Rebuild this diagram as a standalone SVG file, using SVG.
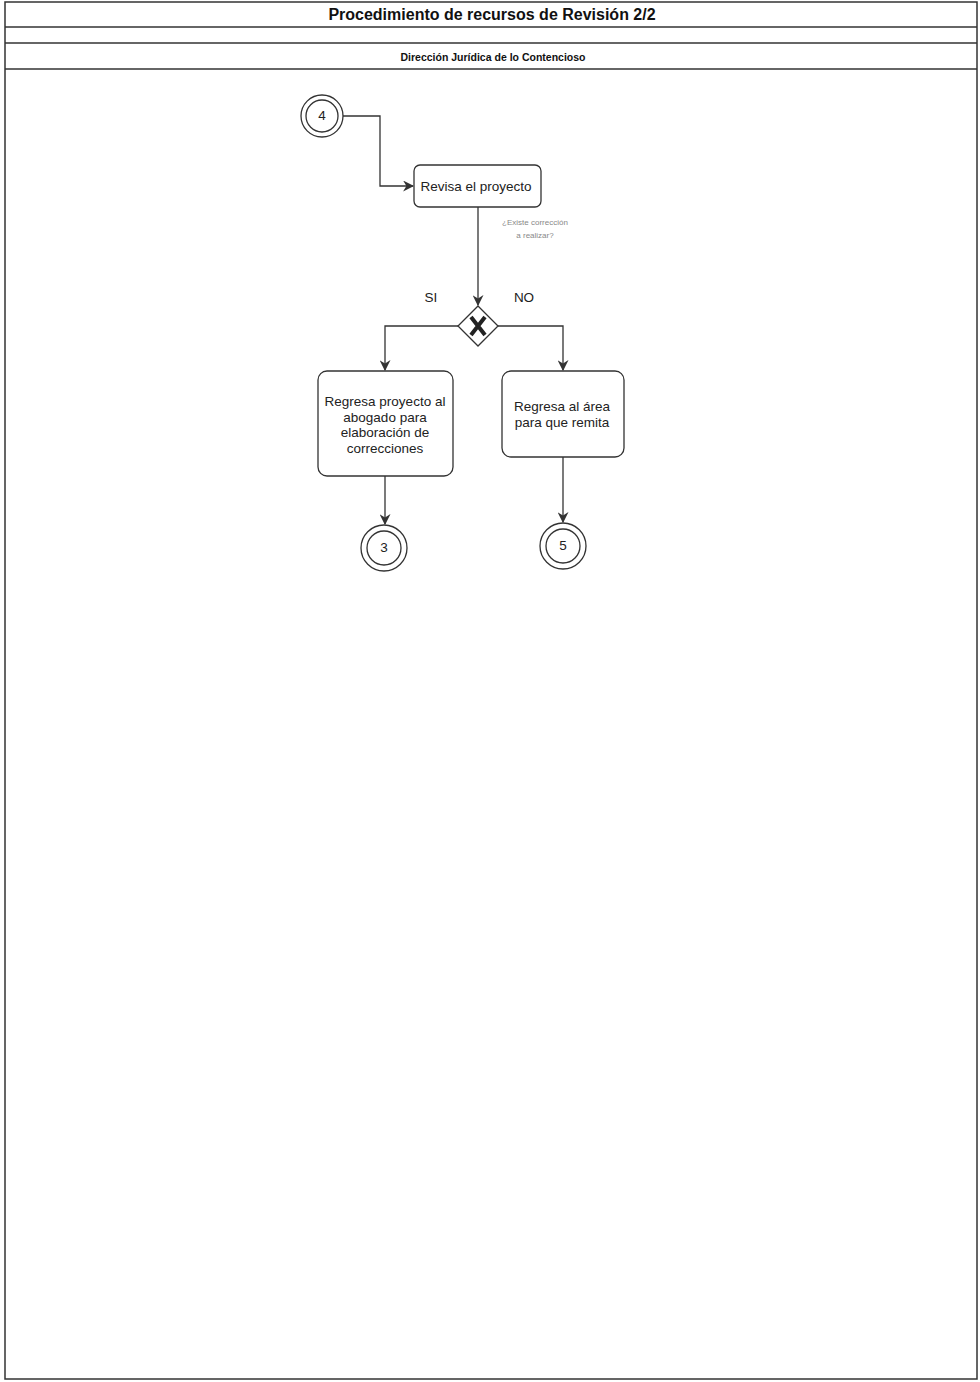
<svg xmlns="http://www.w3.org/2000/svg" width="980" height="1382" viewBox="0 0 980 1382">
<defs>
<style>
.frame{fill:#fff;stroke:#333;stroke-width:1.5}
.ln{stroke:#333;stroke-width:1.5;fill:none}
.task{fill:#fff;stroke:#333;stroke-width:1.3}
.ev{fill:#fff;stroke:#333;stroke-width:1.3}
.t{font-family:"Liberation Sans",Arial,sans-serif;font-size:13.5px;fill:#222;text-anchor:middle}
.edge{stroke:#333;stroke-width:1.3;fill:none;marker-end:url(#arr)}
</style>
<marker id="arr" viewBox="0 0 10 10" refX="9" refY="5" markerWidth="11" markerHeight="11" markerUnits="userSpaceOnUse" orient="auto">
<path d="M0,0 L10,5 L0,10 L3,5 Z" fill="#333"/>
</marker>
</defs>
<rect width="980" height="1382" fill="#fff"/>
<g id="frame">
<rect class="frame" x="5" y="2" width="972" height="1377"/>
<line class="ln" x1="5" y1="27" x2="977" y2="27"/>
<line class="ln" x1="5" y1="43" x2="977" y2="43"/>
<line class="ln" x1="5" y1="69" x2="977" y2="69"/>
<text x="492" y="20" font-family="Liberation Sans,Arial,sans-serif" font-size="16" font-weight="bold" text-anchor="middle" fill="#111">Procedimiento de recursos de Revisión 2/2</text>
<text x="493" y="61" font-family="Liberation Sans,Arial,sans-serif" font-size="10.5" font-weight="bold" text-anchor="middle" fill="#111">Dirección Jurídica de lo Contencioso</text>
</g>
<g id="connectors">
<path class="edge" d="M343,116 H380 V186 H413"/>
<path class="edge" d="M478,207 V305"/>
<path class="edge" d="M458,326 H385 V370"/>
<path class="edge" d="M498,326 H563 V370"/>
<path class="edge" d="M385,476 V524"/>
<path class="edge" d="M563,457 V522"/>
<text x="535" y="225" font-family="Liberation Sans,Arial,sans-serif" font-size="8" fill="#888" text-anchor="middle">¿Existe corrección</text>
<text x="535" y="238" font-family="Liberation Sans,Arial,sans-serif" font-size="8" fill="#888" text-anchor="middle">a realizar?</text>
<text class="t" x="431" y="302">SI</text>
<text class="t" x="524" y="302">NO</text>
</g>
<g id="event4">
<circle class="ev" cx="322" cy="116" r="21"/>
<circle class="ev" cx="322" cy="116" r="16"/>
<text class="t" x="322" y="120" font-size="12">4</text>
</g>
<g id="task-revisa">
<rect class="task" x="414" y="165" width="127" height="42" rx="6"/>
<text class="t" x="476" y="191">Revisa el proyecto</text>
</g>
<g id="gateway">
<path d="M478,306 L498,326 L478,346 L458,326 Z" fill="#fff" stroke="#333" stroke-width="1.3"/>
<path d="M471,317 L485,335 M485,317 L471,335" stroke="#222" stroke-width="4" fill="none"/>
</g>
<g id="task-regresa-abogado">
<rect class="task" x="318" y="371" width="135" height="105" rx="9"/>
<text class="t" x="385" y="406">Regresa proyecto al</text>
<text class="t" x="385" y="422">abogado para</text>
<text class="t" x="385" y="437">elaboración de</text>
<text class="t" x="385" y="453">correcciones</text>
</g>
<g id="task-regresa-area">
<rect class="task" x="502" y="371" width="122" height="86" rx="9"/>
<text class="t" x="562" y="411">Regresa al área</text>
<text class="t" x="562" y="427">para que remita</text>
</g>
<g id="event3">
<circle class="ev" cx="384" cy="548" r="23"/>
<circle class="ev" cx="384" cy="548" r="17"/>
<text class="t" x="384" y="552" font-size="12">3</text>
</g>
<g id="event5">
<circle class="ev" cx="563" cy="546" r="23"/>
<circle class="ev" cx="563" cy="546" r="17"/>
<text class="t" x="563" y="550" font-size="12">5</text>
</g>
</svg>
